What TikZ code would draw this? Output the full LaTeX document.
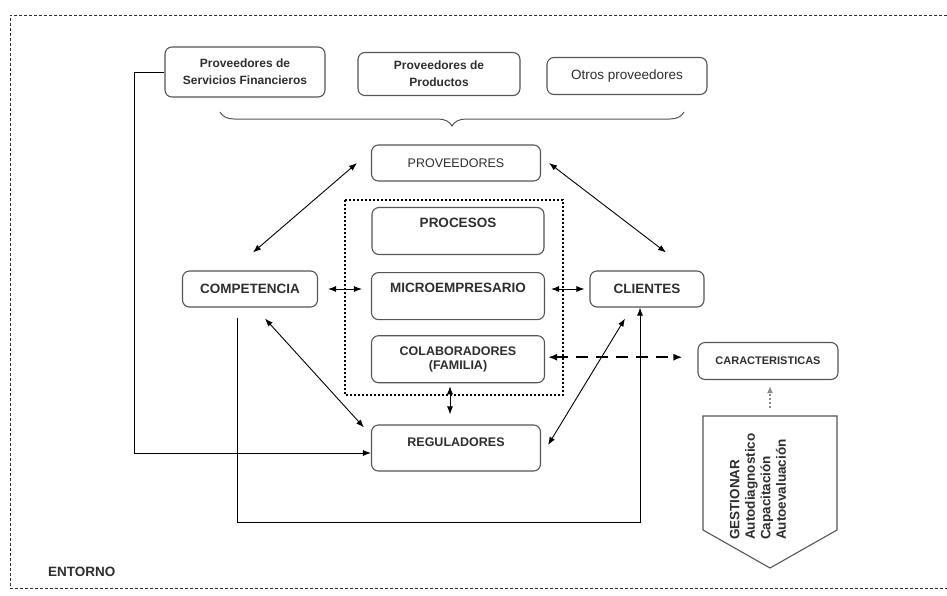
\documentclass[tikz,border=0pt]{standalone}
\usepackage{fontspec}
\setmainfont{Liberation Sans}
\usetikzlibrary{arrows.meta,positioning,decorations.pathreplacing}
\definecolor{Ink}{HTML}{2E2E2E}
\definecolor{Muted}{HTML}{555555}
\definecolor{Line}{HTML}{8C8C8C}
\tikzset{
  box/.style={draw=Muted,line width=1.1pt,rounded corners=7pt,align=center,text=Ink,inner sep=2pt,font=\fontsize{13.5}{16}\selectfont\bfseries},
  boxlight/.style={box,font=\fontsize{12.5}{15}\selectfont},
  boxsmall/.style={box,font=\fontsize{12.5}{14}\selectfont\bfseries},
  arrow/.style={-{Latex[length=8pt,width=6pt]},line width=.9pt,draw=black},
  dblArrow/.style={arrow,{Latex[length=8pt,width=6pt]}-{Latex[length=8pt,width=6pt]}},
  dashArrow/.style={{Latex[length=9pt,width=7pt]}-{Latex[length=9pt,width=7pt]},line width=2.4pt,dash pattern=on 12pt off 8pt},
  dotArrow/.style={-{Latex[length=7pt,width=6pt]},draw=Line,line width=1.8pt,dash pattern=on 2pt off 2pt},
  frame/.style={draw=black,line width=2pt,dotted},
  border/.style={draw=Ink,line width=.9pt,dash pattern=on 3pt off 2pt}
}
\begin{document}
\begin{tikzpicture}[x=1pt,y=-1pt,node distance=16pt]
\useasboundingbox (0,0) rectangle (947,595);
\draw[border] (947,15) -- (10,15) -- (10,588) -- (947,588);
% proveedores arriba
\node[box,minimum width=160pt,minimum height=50pt,font=\fontsize{12}{17}\selectfont\bfseries] (fin) at (245,72) {Proveedores de\\Servicios Financieros};
\node[box,minimum width=162pt,minimum height=43pt,font=\fontsize{12}{17}\selectfont\bfseries] (prod) at (439,74) {Proveedores de\\Productos};
\node[boxlight,minimum width=160pt,minimum height=37pt,font=\fontsize{13.5}{16}\selectfont] (otros) at (627,76) {Otros proveedores};
\draw[decorate,decoration={brace,amplitude=14pt},draw=Muted,line width=1pt] (684,112) -- (220,112);
% nucleo
\node[boxlight,minimum width=169pt,minimum height=36pt] (prov) at (456,163) {PROVEEDORES};
\node[box,minimum width=172pt,minimum height=47pt] (procesos) at (458,231) {PROCESOS\\~};
\node[box,minimum width=173pt,minimum height=47pt,below=17pt of procesos] (micro) {MICROEMPRESARIO\\~};
\node[boxsmall,minimum width=173pt,minimum height=47pt,below=15pt of micro] (colab) {COLABORADORES\\(FAMILIA)};
\node[boxsmall,minimum width=169pt,minimum height=46pt] (regul) at (456,448) {REGULADORES\\[-3pt]~};
\node[box,minimum width=135pt,minimum height=36pt] (comp) at (250,289) {COMPETENCIA};
\node[box,minimum width=114pt,minimum height=36pt] (clientes) at (647,289) {CLIENTES};
\node[box,minimum width=140pt,minimum height=37pt,font=\fontsize{11}{13}\selectfont\bfseries] (carac) at (768,361) {CARACTERISTICAS};
\draw[frame] (345,200) rectangle (563,395);
% gestionar
\draw[draw=Muted,line width=1.1pt] (703,416) -- (837,416) -- (837,530) -- (770,568) -- (703,530) -- cycle;
\coordinate (gtop) at (770,416);
\node[rotate=90,anchor=west,align=left,inner sep=0pt,text=Ink,font=\fontsize{13.5}{15.5}\selectfont\bfseries] (gest) at (758,540) {GESTIONAR\\Autodiagnostico\\Capacitación\\Autoevaluación};
\node[anchor=west,inner sep=0pt,text=Ink,font=\fontsize{13.5}{16}\selectfont\bfseries] (entorno) at (48,572) {ENTORNO};
% conexiones
\draw[arrow] (fin.west) -- ++(-30,0) |- ([yshift=-5pt]regul.west);
\draw[arrow] ([xshift=-13pt,yshift=-10pt]comp.south) -- ++(0,205) -| ([xshift=-7pt]clientes.south);
\draw[dblArrow] ([xshift=-14pt]prov.west) -- ([xshift=3pt,yshift=18pt]comp.north);
\draw[dblArrow] ([xshift=8pt]prov.east) -- ([xshift=19pt,yshift=18pt]clientes.north);
\draw[dblArrow,shorten <=10pt,shorten >=9pt] (comp.east) -- (comp.east -| micro.west);
\draw[dblArrow,shorten <=6pt,shorten >=5pt] (clientes.west -| micro.east) -- (clientes.west);
\draw[dblArrow] ([xshift=15pt,yshift=-11pt]comp.south) -- ([xshift=-7pt,yshift=-3pt]regul.north west);
\draw[dblArrow] ([xshift=-22pt,yshift=-11pt]clientes.south) -- ([xshift=7pt,yshift=3pt]regul.east);
\draw[dblArrow,shorten <=3pt,shorten >=10pt] ([xshift=-8pt]colab.south) -- ([xshift=-8pt]colab.south |- regul.north);
\draw[dashArrow,shorten <=3pt,shorten >=15pt] ([yshift=2pt]colab.east) -- ([yshift=2pt]colab.east -| carac.west);
\draw[dotArrow,shorten <=8pt,shorten >=6pt] (gtop) -- (gtop |- carac.south);
\end{tikzpicture}
\end{document}
